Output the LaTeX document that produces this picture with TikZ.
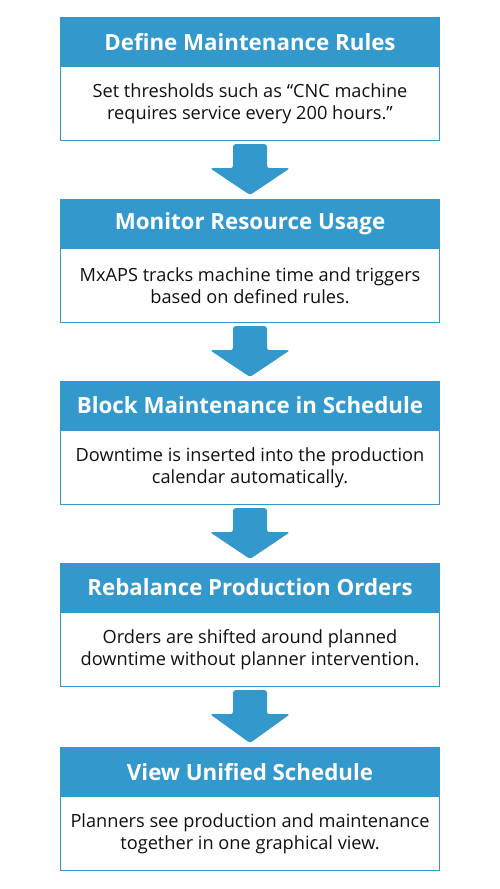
\documentclass[tikz,border=0pt]{standalone}
\usepackage{fontspec}
\setmainfont{Open Sans}
\usetikzlibrary{calc}
\definecolor{hblue}{RGB}{51,153,204}
\definecolor{txt}{RGB}{17,17,17}
\begin{document}
\begin{tikzpicture}[x=1pt,y=-1pt,
  head/.style={fill=hblue, draw=hblue, line width=1.2pt, minimum width=379pt, minimum height=48pt, inner sep=0pt, text=white, font=\fontsize{22.3}{26}\selectfont\bfseries, anchor=north},
  body/.style={fill=white, draw=hblue, line width=1.2pt, minimum width=379pt, minimum height=74pt, inner sep=0pt, text=txt, font=\fontsize{18.2}{22}\selectfont, align=center, anchor=north},
  blockarrow/.style={fill=hblue, rounded corners=2.5pt}]
\useasboundingbox (0,0) rectangle (500,889);
\node[body] (b1) at (250,66) {Set thresholds such as “CNC machine\\requires service every 200 hours.”};
\node[head] (h1) at (250,17) {Define Maintenance Rules};
\node[body] (b2) at (250,248) {MxAPS tracks machine time and triggers\\based on defined rules.};
\node[head] (h2) at (250,199) {Monitor Resource Usage};
\node[body] (b3) at (250,430) {Downtime is inserted into the production\\calendar automatically.};
\node[head] (h3) at (250,381) {Block Maintenance in Schedule};
\node[body] (b4) at (250,612) {Orders are shifted around planned\\downtime without planner intervention.};
\node[head] (h4) at (250,563) {Rebalance Production Orders};
\node[body] (b5) at (250,796) {Planners see production and maintenance\\together in one graphical view.};
\node[head] (h5) at (250,747) {View Unified Schedule};
\foreach \i/\j in {1/2,2/3,3/4,4/5}{
  \path[blockarrow] ($(b\i.south)+(-17,3)$) -- ($(b\i.south)+(17,3)$) -- ($(b\i.south)+(17,27)$) -- ($(b\i.south)+(40,27)$) -- ($(h\j.north)+(0,-4)$) -- ($(b\i.south)+(-40,27)$) -- ($(b\i.south)+(-17,27)$) -- cycle;
}
\end{tikzpicture}
\end{document}
